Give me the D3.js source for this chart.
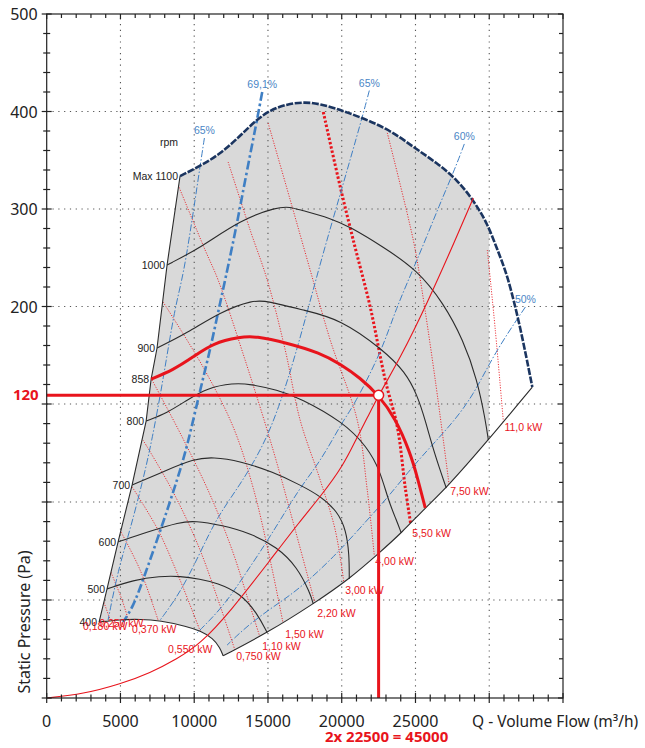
<!DOCTYPE html>
<html>
<head>
<meta charset="utf-8">
<script src="https://cdn.jsdelivr.net/npm/d3@7"></script>
<style>
  body { margin: 0; background: #fff; }
  text { font-family: "Liberation Sans", Arial, sans-serif; }
  .ax { font-family: "Noto Sans", "Liberation Sans", sans-serif; }
</style>
</head>
<body>
<script>
// Q in m3/h, P in Pa
var xLabels = [0, 5000, 10000, 15000, 20000, 25000];
var xGrid = [5000, 10000, 15000, 20000, 25000, 30000];
var yLabels = [200, 300, 400, 500];
var yGrid = [20, 50, 100, 200, 300, 400];
var yMajor = [0, 20, 50, 100, 200, 300, 400, 500];

// fan envelope
var leftEdge = [[3550,15.5],[4090,23.4],[4840,37.8],[5790,58.7],[6740,91.3],[7080,125.6],[7480,157.4],[8160,242.6],[9040,333.8]];
var rpm1100 = [[9040,333.8],[10400,344.1],[11760,356.4],[13110,374.9],[14130,390.3],[15150,401.6],[16300,407.7],[17520,409.8],[18540,407.7],[19700,402.6],[20780,396.9],[23090,383],[24850,363.6],[26480,347],[27840,329.7],[28920,309],[29870,285.6],[30550,258],[31230,232.7],[32110,179],[32920,117.4]];
var rightEdge = [[32920,117.4],[29940,81.6],[27090,57.1],[25660,48.2],[24040,40.5],[22610,34.7],[20510,26.4],[18070,19.2],[14950,13.3],[11960,8.6]];

// rpm curves
var rpm1000 = [[8160,242.6],[10400,260],[13110,288.7],[15620,302.1],[16510,302.1],[17180,299],[19220,290.8],[20580,281.5],[22820,261],[25120,237.4],[26890,203.6],[28240,165.6],[29190,124.6],[29740,91.8],[29940,81.6]];
var rpm900 = [[7480,157.4],[9520,172.8],[11760,194.4],[14000,206.7],[14950,205.6],[17390,196.4],[19900,187.2],[22820,155.4],[24310,132.8],[25120,109.2],[25660,91.8],[26270,75],[27090,57.1]];
var rpm858 = [[7080,125.6],[8570,134.9],[9930,148.2],[11280,162.6],[13110,168.7],[14130,169.7],[16300,162.6],[18540,152.3],[19900,141],[21260,126.7],[22500,109],[23630,92.9],[24650,75],[25120,62.8],[25660,48.2]];
var rpm800 = [[6740,91.3],[8160,95.4],[9520,104.1],[10880,116.4],[12640,121.5],[13790,120.5],[15620,114.4],[17180,106.2],[20100,90.8],[21730,78.1],[22610,65.8],[23150,51],[23700,44.5],[24040,40.5]];
var rpm700 = [[5790,58.7],[8160,66.3],[9930,71.9],[11280,73],[13110,70.9],[15350,65.3],[17180,58.7],[18540,53.1],[19700,47.2],[20300,41.4],[20510,33.8],[20510,26.4]];
var rpm600 = [[4840,37.8],[6810,40.8],[9040,43.9],[10060,44.2],[11760,43],[13790,40.5],[15620,36.2],[16980,30.1],[17860,22.1],[18070,19.2]];
var rpm500 = [[4090,23.4],[5860,26.1],[7690,27.3],[9040,27.3],[10400,26.4],[11550,25.2],[13110,22.1],[14270,17.3],[14950,13.3]];
var rpm400 = [[3550,15.5],[4970,16],[6330,16.1],[7690,15.8],[9520,14.6],[10400,13.7],[11280,12.2],[11760,10.2],[11960,8.6]];
var rpmLabels = ["1000", "900", "858", "800", "700", "600", "500", "400"];

// efficiency lines
var eff65a = [[10690,372.8],[10400,344.1],[9930,295.9],[9250,230.3],[8700,200.5],[7890,124.6],[7140,81.6],[6530,61.2],[5650,41.4],[4840,29.2],[4160,15.9]];
var eff691 = [[14610,420],[14270,392.3],[13320,319.5],[12910,285.6],[12100,227.2],[11620,194.4],[11080,155.4],[10400,114.4],[9520,78.1],[8840,61.2],[7890,43.6],[6530,26.1],[5860,18.6],[5180,15.5]];
var eff65b = [[21870,421.5],[21390,393.8],[20030,322],[18540,244.6],[16980,155.4],[15690,96.9],[14610,77.6],[13110,58.7],[11550,45.4],[10400,34.4],[9040,22.1],[7690,15.9]];
var eff60 = [[28310,366.7],[27700,342.1],[26680,306.2],[25120,247.7],[23630,196.4],[22750,155.4],[20780,98.5],[20100,91.8],[18540,70.4],[17180,57.7],[15150,39.3],[13320,27],[11960,18.6],[10200,13.3]];
var eff50 = [[32450,199.5],[30350,152.3],[28910,108.2],[27390,89.3],[26010,78.1],[24440,64.8],[23150,52.6],[21730,44.5],[19420,32.9],[17180,23.7],[16030,20],[13790,15.3],[12230,10.8]];
var effLabels = ["65%", "69,1%", "65%", "60%", "50%"];

// motor power lines
var pw11_0 = [[29870,257.9],[30410,175.9],[30960,90.8]];
var pw7_50 = [[23090,378],[24850,268.2],[25330,227.2],[26340,124.6],[27290,58.2]];
var pw5_50 = [[18750,399.5],[19900,322.6],[20780,268.2],[21930,199.5],[22950,124.6],[23770,88.3],[24310,57.1],[24720,42]];
var pw4_00 = [[15010,388.2],[16510,309.2],[17860,237.4],[19220,165.6],[21050,91.8],[21730,56.1],[22210,33.5]];
var pw3_00 = [[12300,348.2],[13790,278.5],[14950,227.2],[16170,155.4],[17180,91.8],[18540,61.2],[19560,41.4],[20170,24.6]];
var pw2_20 = [[8910,324.6],[10740,257.9],[11620,227.2],[13450,145.1],[15350,76.5],[16850,41.4],[18270,18.4]];
var pw1_50 = [[7890,204.6],[10600,137.9],[12640,88.3],[14000,57.1],[15150,32.2],[16100,14.1]];
var pw1_10 = [[7140,124.6],[9180,83.2],[11080,53.6],[12570,35.3],[13660,20],[14540,11.6]];
var pw0_750 = [[6530,81.6],[8500,56.1],[10260,36.8],[11620,20],[12780,9.6]];
var pw0_550 = [[5790,57.7],[7550,41.4],[9040,26.1],[10400,13.7]];
var pw0_370 = [[4970,41.4],[6330,29.2],[7550,15.9]];
var pw0_250 = [[4290,29.2],[5110,20],[5520,16.1]];
var pw0_180 = [[3820,20],[4290,16.1]];
var pwLabels = ["11,0 kW","7,50 kW","5,50 kW","4,00 kW","3,00 kW","2,20 kW","1,50 kW","1,10 kW","0,750 kW","0,550 kW","0,370 kW","0,250 kW","0,180 kW"];

// system curve and duty point
var systemCurve = [[0,0],[2460,0.8],[5040,2.9],[7010,5.1],[8840,8],[10400,11],[12440,17.6],[15150,32.2],[17180,44.2],[18540,52.6],[20100,68.4],[21050,83.2],[21730,92.9],[22500,109],[23970,147.2],[25800,203.6],[27700,268.2],[28920,311.3]];
var opQ = 22500, opP = 109;
var opLabel = "120";
var totalLabel = "2x 22500 = 45000";

var W = 645, H = 748;
var red = "#e8141c", blue = "#3f7fc4";

var svg = d3.select("body").append("svg").attr("width", W).attr("height", H);

var x = d3.scaleLinear().domain([0, 35000]).range([46.7, 563]);
var y = d3.scaleLinear().domain([0, 20, 50, 100, 500]).range([698, 600, 502, 404, 14]);

function mk(curve) {
  return d3.line().x(function(d){ return x(d[0]); }).y(function(d){ return y(d[1]); }).curve(curve);
}
var line = mk(d3.curveCatmullRom.alpha(0.5));
var smooth = mk(d3.curveBasis);

var envD = mk(d3.curveLinear)(leftEdge)
  + smooth(rpm1100).replace(/^M/, "L")
  + smooth(rightEdge).replace(/^M/, "L")
  + smooth(rpm400.slice().reverse()).replace(/^M/, "L") + "Z";

var defs = svg.append("defs");
defs.append("clipPath").attr("id", "envClip").append("path").attr("d", envD);
defs.append("clipPath").attr("id", "qClip").append("rect")
  .attr("x", 0).attr("y", 0).attr("width", x(30000)).attr("height", H);

// grey working area (limited to 30000 m3/h)
svg.append("path").attr("d", envD).attr("fill", "#d9d9d9").attr("stroke", "none")
  .attr("clip-path", "url(#qClip)");

// grid
var grid = svg.append("g").attr("stroke", "#555").attr("stroke-width", 1.1).attr("stroke-dasharray", "1.2,4.6");
grid.selectAll(".gx").data(xGrid).enter().append("line")
  .attr("x1", d => x(d)).attr("x2", d => x(d)).attr("y1", y(0)).attr("y2", y(500));
grid.selectAll(".gy").data(yGrid).enter().append("line")
  .attr("y1", d => y(d)).attr("y2", d => y(d)).attr("x1", x(0)).attr("x2", x(35000));

// power lines
var pwLines = [pw11_0, pw7_50, pw5_50, pw4_00, pw3_00, pw2_20, pw1_50, pw1_10, pw0_750, pw0_550, pw0_370, pw0_250, pw0_180];
var gp = svg.append("g").attr("clip-path", "url(#envClip)");
pwLines.forEach(function(p, i) {
  var sel = pwLabels[i] == "5,50 kW";
  gp.append("path").attr("d", line(p)).attr("fill", "none").attr("stroke", red)
    .attr("stroke-width", sel ? 3 : 0.9)
    .attr("stroke-dasharray", sel ? "2.4,2" : "1.1,1.5");
});

// efficiency lines
var effLines = [eff65a, eff691, eff65b, eff60, eff50];
effLines.forEach(function(p, i) {
  var best = effLabels[i] == "69,1%";
  svg.append("path").attr("d", smooth(p)).attr("fill", "none").attr("stroke", blue)
    .attr("stroke-width", best ? 2.6 : 1)
    .attr("stroke-dasharray", best ? "9,3,2.5,3" : "7,2,1.5,2");
  svg.append("text").attr("x", x(p[0][0])).attr("y", y(p[0][1]) - 4)
    .attr("text-anchor", "middle").attr("font-size", 10.5).attr("fill", "#4a86c6").text(effLabels[i]);
});

// envelope outline
var outline = svg.append("g").attr("fill", "none").attr("stroke", "#2b2b2b").attr("stroke-width", 1.1);
outline.append("path").attr("d", mk(d3.curveLinear)(leftEdge));
outline.append("path").attr("d", smooth(rightEdge));

// rpm curves
var rpmCurves = [rpm1000, rpm900, rpm858, rpm800, rpm700, rpm600, rpm500, rpm400];
rpmCurves.forEach(function(p, i) {
  var sel = rpmLabels[i] == "858";
  svg.append("path").attr("d", smooth(p)).attr("fill", "none")
    .attr("stroke", sel ? red : "#2b2b2b").attr("stroke-width", sel ? 3 : 1.1);
  svg.append("text").attr("x", x(p[0][0]) - 2).attr("y", y(p[0][1]) + 4)
    .attr("text-anchor", "end").attr("font-size", 10.5).attr("fill", "#222").text(rpmLabels[i]);
});

// max speed curve
svg.append("path").attr("d", smooth(rpm1100)).attr("fill", "none").attr("stroke", "#1b3560")
  .attr("stroke-width", 2.6).attr("stroke-dasharray", "7,1.6");
svg.append("text").attr("x", x(rpm1100[0][0]) - 2).attr("y", y(rpm1100[0][1]) + 4)
  .attr("text-anchor", "end").attr("font-size", 10.5).attr("fill", "#222").text("Max 1100");
svg.append("text").attr("x", x(rpm1100[0][0]) - 2).attr("y", y(rpm1100[0][1]) - 30)
  .attr("text-anchor", "end").attr("font-size", 10.5).attr("fill", "#222").text("rpm");

// power labels at line ends
var pwOffset = {"0,550 kW": [-32, 22], "0,370 kW": [-26, 13], "0,250 kW": [-29, 8], "0,180 kW": [-27, 11]};
pwLines.forEach(function(p, i) {
  var e = p[p.length - 1], o = pwOffset[pwLabels[i]] || [1, 9];
  svg.append("text").attr("x", x(e[0]) + o[0]).attr("y", y(e[1]) + o[1])
    .attr("font-size", 10.5).attr("fill", red).text(pwLabels[i]);
});

// system curve
svg.append("path").attr("d", smooth(systemCurve)).attr("fill", "none").attr("stroke", red).attr("stroke-width", 1.1);

// duty point lines
svg.append("line").attr("x1", x(0)).attr("x2", x(opQ)).attr("y1", y(opP)).attr("y2", y(opP))
  .attr("stroke", red).attr("stroke-width", 3);
svg.append("line").attr("x1", x(opQ)).attr("x2", x(opQ)).attr("y1", y(opP)).attr("y2", y(0))
  .attr("stroke", red).attr("stroke-width", 3);
svg.append("circle").attr("cx", x(opQ)).attr("cy", y(opP)).attr("r", 5)
  .attr("fill", "#fff").attr("stroke", red).attr("stroke-width", 1.5);

// frame and ticks
var fr = svg.append("g").attr("stroke", "#222").attr("stroke-width", 1.2).attr("fill", "none");
fr.append("rect").attr("x", x(0)).attr("y", y(500)).attr("width", x(35000) - x(0)).attr("height", y(0) - y(500));

var xMinor = d3.range(0, 35001, 1000);
var yMinor = [];
for (var i = 0; i < yMajor.length - 1; i++) {
  for (var k = 1; k < 5; k++) yMinor.push(yMajor[i] + (yMajor[i + 1] - yMajor[i]) * k / 5);
}

fr.selectAll(".tb").data(xMinor).enter().append("line")
  .attr("x1", d => x(d)).attr("x2", d => x(d))
  .attr("y1", d => y(0) - (d % 5000 == 0 ? 5 : 3.5)).attr("y2", d => y(0) + (d % 5000 == 0 ? 5 : 3.5));
fr.selectAll(".tt").data(xMinor).enter().append("line")
  .attr("x1", d => x(d)).attr("x2", d => x(d))
  .attr("y1", y(500)).attr("y2", d => y(500) + (d % 5000 == 0 ? 5 : 4));
fr.selectAll(".tl").data(yMajor.concat(yMinor)).enter().append("line")
  .attr("y1", d => y(d)).attr("y2", d => y(d))
  .attr("x1", (d, j) => x(0) - (j < yMajor.length ? 5 : 3.5)).attr("x2", (d, j) => x(0) + (j < yMajor.length ? 5 : 3.5));
fr.selectAll(".tr").data(yMajor.concat(yMinor)).enter().append("line")
  .attr("y1", d => y(d)).attr("y2", d => y(d))
  .attr("x1", (d, j) => x(35000) - (j < yMajor.length ? 5 : 4)).attr("x2", x(35000));

// axis labels
svg.selectAll(".xl").data(xLabels).enter().append("text").attr("class", "ax")
  .attr("x", d => x(d)).attr("y", 727).attr("text-anchor", "middle")
  .attr("font-size", 16).attr("fill", "#222").text(d => d);
svg.selectAll(".yl").data(yLabels).enter().append("text").attr("class", "ax")
  .attr("x", x(0) - 9).attr("y", d => y(d) + 6).attr("text-anchor", "end")
  .attr("font-size", 16).attr("fill", "#222").text(d => d);

svg.append("text").attr("class", "ax").attr("x", 472).attr("y", 727)
  .attr("font-size", 15.5).attr("fill", "#222").text("Q - Volume Flow (m\u00b3/h)");
svg.append("text").attr("class", "ax").attr("transform", "translate(30,622) rotate(-90)")
  .attr("text-anchor", "middle").attr("font-size", 16).attr("fill", "#222").text("Static Pressure (Pa)");

svg.append("text").attr("class", "ax").attr("x", x(0) - 8).attr("y", y(opP) + 5)
  .attr("text-anchor", "end").attr("font-size", 15).attr("font-weight", "bold").attr("fill", red).text(opLabel);
svg.append("text").attr("class", "ax").attr("x", x(opQ) + 8).attr("y", 742)
  .attr("text-anchor", "middle").attr("font-size", 15).attr("font-weight", "bold").attr("fill", red).text(totalLabel);
</script>
</body>
</html>
